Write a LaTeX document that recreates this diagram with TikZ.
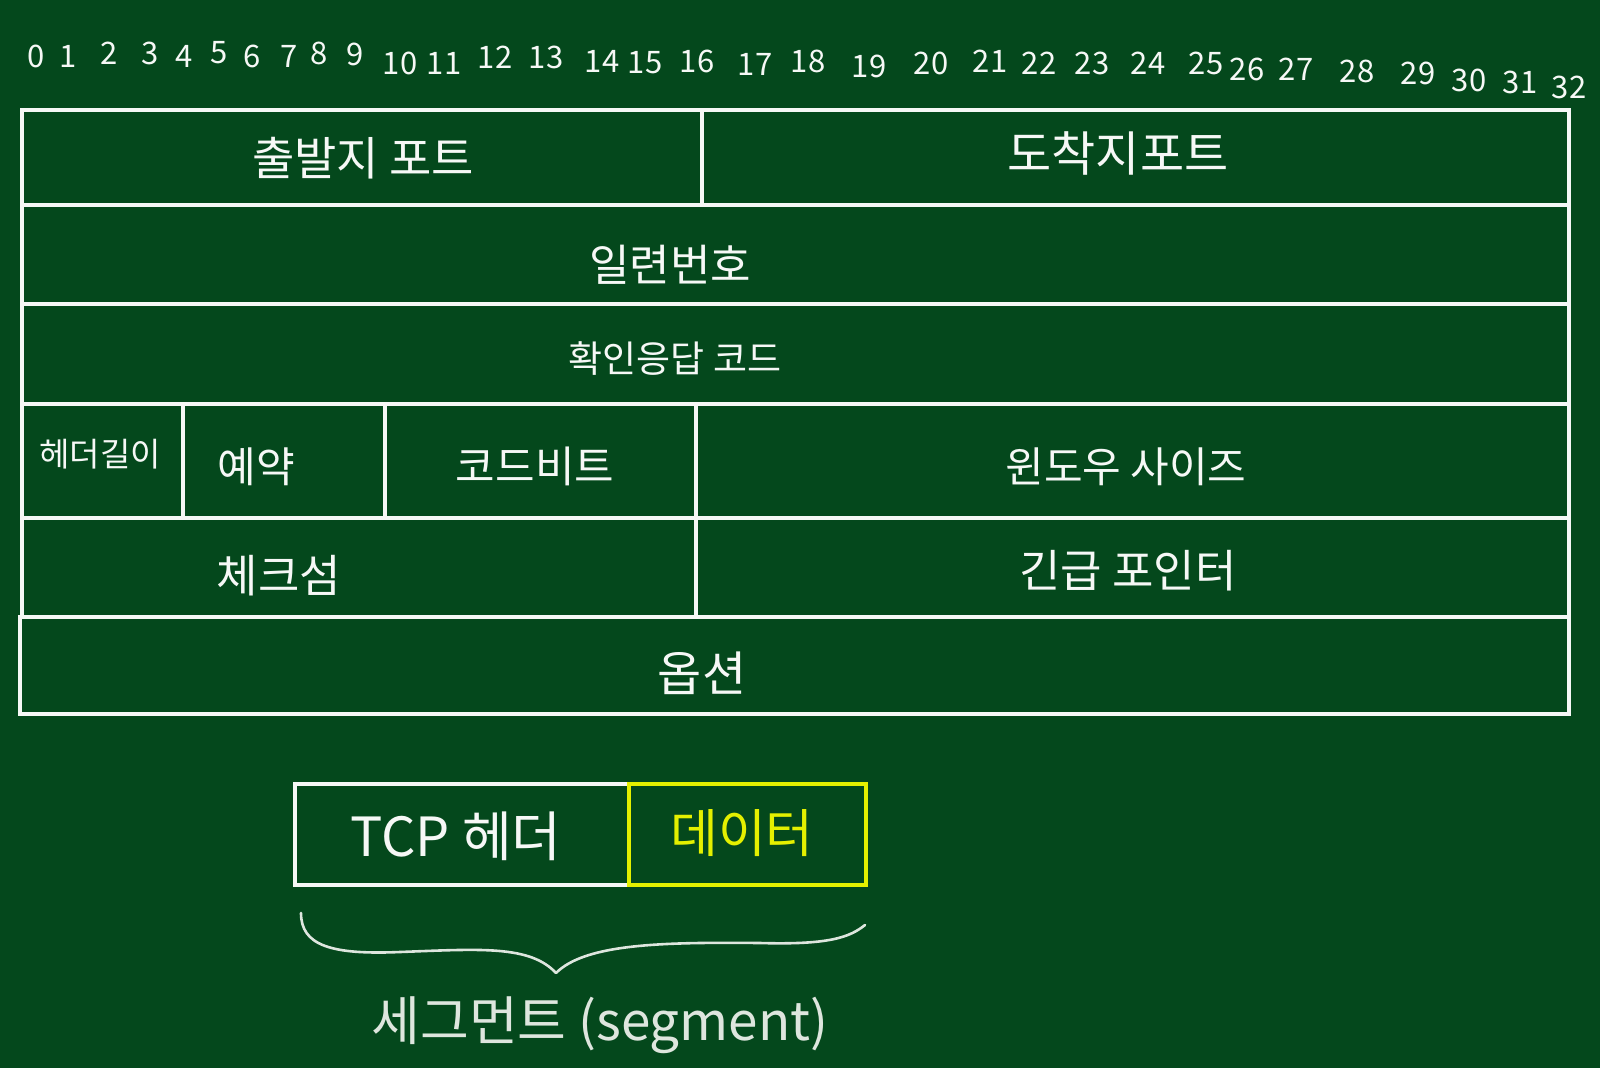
\documentclass[tikz,border=0pt]{standalone}
\usepackage{fontspec}
\setmainfont{Noto Sans CJK KR}
\usetikzlibrary{fit}
\definecolor{board}{RGB}{4,72,28}
\definecolor{chalk}{RGB}{246,248,246}
\definecolor{chalkgrey}{RGB}{222,230,222}
\definecolor{chalkyellow}{RGB}{228,240,0}
\tikzset{
  cell/.style={draw=chalk, line width=3.2pt, inner sep=0pt},
  ycell/.style={draw=chalkyellow, line width=3.2pt, inner sep=0pt},
  lbl/.style={text=chalk, font=\fontsize{#1}{#1}\selectfont, inner sep=0pt, anchor=center},
  lbl/.default=40,
  num/.style={text=chalk, font=\fontsize{31}{31}\selectfont, inner sep=0pt, anchor=center},
  bracepath/.style={draw=chalkgrey, line width=2.6pt, line cap=round, line join=round}
}
\begin{document}
\begin{tikzpicture}[x=1pt,y=-1pt]
\fill[board] (0,0) rectangle (1600,1068);
\useasboundingbox (0,0) rectangle (1600,1068);

% bit numbers
\foreach \n/\x/\y in {0/36/56,1/68/56,2/109/53,3/150/53,4/184/56,5/219/53,6/252/56,7/289/56,8/319/53,9/355/54,
  10/400/63,11/444/63,12/495/57,13/546/57,14/602/61,15/645/63,16/697/61,17/755/64,18/808/61,19/869/66,
  20/931/63,21/990/61,22/1039/63,23/1092/63,24/1148/63,25/1206/63,26/1247/69,27/1296/69,28/1357/71,
  29/1418/73,30/1469/80,31/1520/82,32/1569/87}
  \node[num] (b\n) at (\x,\y) {\n};

% header table cells
\node[cell, fit={(22,110)(702,205)}] (r1a) {};
\node[cell, fit={(702,110)(1569,205)}] (r1b) {};
\node[cell, fit={(22,205)(1569,304)}] (r2) {};
\node[cell, fit={(22,304)(1569,404)}] (r3) {};
\node[cell, fit={(22,404)(183,518)}] (r4a) {};
\node[cell, fit={(183,404)(385,518)}] (r4b) {};
\node[cell, fit={(385,404)(696,518)}] (r4c) {};
\node[cell, fit={(696,404)(1569,518)}] (r4d) {};
\node[cell, fit={(22,518)(696,617)}] (r5a) {};
\node[cell, fit={(696,518)(1569,617)}] (r5b) {};
\node[cell, fit={(20,617)(1569,714)}] (r6) {};

% labels
\node[lbl=46] (t1a) at (363,158) {출발지 포트};
\node[lbl=48] (t1b) at (1118,153) {도착지포트};
\node[lbl=44] (t2) at (670,265) {일련번호};
\node[lbl=37] (t3) at (675,359) {확인응답 코드};
\node[lbl=33] (t4a) at (100,454) {헤더길이};
\node[lbl=42] (t4b) at (256,467) {예약};
\node[lbl=43] (t4c) at (535,466) {코드비트};
\node[lbl=42] (t4d) at (1126,467) {윈도우 사이즈};
\node[lbl=45] (t5a) at (279,576) {체크섬};
\node[lbl=45] (t5b) at (1128,571) {긴급 포인터};
\node[lbl=48] (t6) at (702,673) {옵션};

% segment boxes
\node[cell, fit={(295,784)(629,885)}] (hdr) {};
\node[ycell, fit={(629,784)(866,885)}] (dat) {};
\node[lbl=54] (thdr) at (456,836) {TCP 헤더};
\node[lbl=52, text=chalkyellow] (tdat) at (742,833) {데이터};

% brace
\coordinate (bl) at (301,913);
\coordinate (btip) at (556,973);
\coordinate (br) at (865,925);
\draw[bracepath] (bl) .. controls (301,945) and (330,955) .. (400,952)
  .. controls (480,949) and (530,945) .. (btip)
  .. controls (585,944) and (660,942) .. (760,943)
  .. controls (830,945) and (850,937) .. (br);
\node[lbl=53, text=chalkgrey] (seg) at (600,1025) {세그먼트 (segment)};
\end{tikzpicture}
\end{document}
